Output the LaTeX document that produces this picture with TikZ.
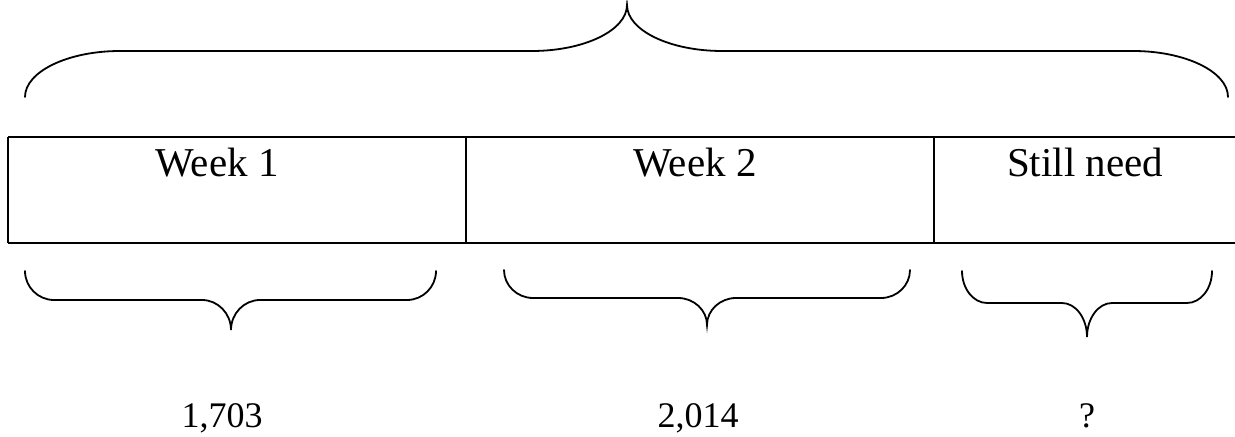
\documentclass[tikz,border=0pt]{standalone}
\usepackage{fontspec}
\setmainfont{Liberation Serif}
\usepackage{tikz}
\tikzstyle{Bar}=[draw=black,line width=1.2pt]
\tikzstyle{Curl}=[draw=black,line width=0.9pt,line cap=round]
\tikzstyle{NodeWk}=[inner sep=0pt,anchor=base,font=\fontsize{20.5}{24}\selectfont]
\tikzstyle{NodeNb}=[inner sep=0pt,anchor=base,font=\fontsize{18}{22}\selectfont]
% #1,#2 ends, #3 tip x, #4 end y, #5 flat y, #6 tip y, #7 curl width
\newcommand{\Curly}[7]{%
    \draw[Curl](#1,#4)..controls(#1,{#4+0.55*(#5-#4)})
        and({#1+0.45*#7},#5)..({#1+#7},#5)
        --({#3-#7},#5)..controls({#3-0.45*#7},#5)
        and(#3,{#5+0.45*(#6-#5)})..(#3,#6)
        ..controls(#3,{#5+0.45*(#6-#5)})
        and({#3+0.45*#7},#5)..({#3+#7},#5)
        --({#2-#7},#5)..controls({#2-0.45*#7},#5)
        and(#2,{#4+0.55*(#5-#4)})..(#2,#4);}

\begin{document}
\begin{tikzpicture}[x=0.5pt,y=-0.5pt]
        \useasboundingbox(0,0)rectangle(1235,437);
        \coordinate(tl)at(8,137);
        \coordinate(tr)at(1235,137);
        \coordinate(bl)at(8,243);
        \coordinate(br)at(1235,243);
        \coordinate(d1t)at(466,137);
        \coordinate(d1b)at(466,243);
        \coordinate(d2t)at(934,137);
        \coordinate(d2b)at(934,243);
        \draw[Bar](tl)--(tr);
        \draw[Bar](bl)--(br);
        \draw[Bar](tl)--(bl);
        \draw[Bar](d1t)--(d1b);
        \draw[Bar](d2t)--(d2b);
        \node[NodeWk](wk1)at(217,177){Week 1};
        \node[NodeWk](wk2)at(695,177){Week 2};
        \node[NodeWk](still)at(1085,177){Still need};
        \Curly{25}{1228}{627}{97}{51}{5}{95}
        \Curly{25}{436}{231}{271}{300}{330}{29}
        \Curly{504}{910}{707}{270}{298}{325}{29}
        \Curly{962}{1212}{1087}{271}{303}{337}{25}
        \node[NodeNb](n1)at(222,428){1,703};
        \node[NodeNb](n2)at(698,428){2,014};
        \node[NodeNb](q)at(1087,428){?};
    \end{tikzpicture}
\end{document}
